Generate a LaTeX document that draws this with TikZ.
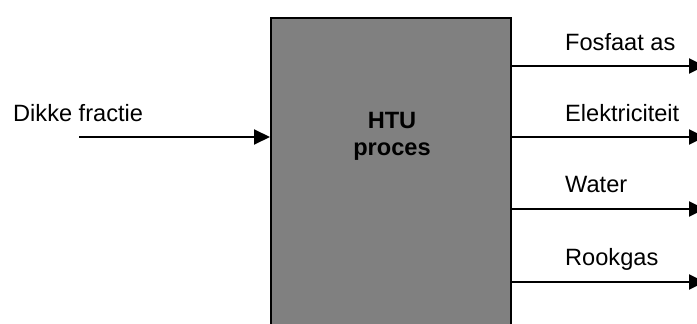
\documentclass[tikz,border=0pt]{standalone}
\usepackage{fontspec}
\setmainfont{Liberation Sans}
\usetikzlibrary{arrows.meta}

\tikzset{
  flow/.style={line width=2pt, -{Triangle[length=16pt,width=15pt]}},
  procbox/.style={draw=black, fill={rgb,255:red,128;green,128;blue,128}, line width=2pt,
    rectangle, inner sep=0pt, minimum width=240pt, minimum height=323pt},
  lbl/.style={anchor=base west, inner sep=0pt, font=\fontsize{23.6}{27}\selectfont},
  boxtext/.style={anchor=base, inner sep=0pt, align=center,
    font=\fontsize{23.6}{27}\selectfont\bfseries}
}

\begin{document}
\begin{tikzpicture}[x=1pt, y=-1pt]
  \useasboundingbox (0,0) rectangle (697,324);

  % the process block (runs off the bottom edge)
  \node[procbox] (box) at (391,179) {};
  % base anchor of a two-line node sits on its last line
  \node[boxtext] (boxlabel) at (392,155) {HTU\\proces};

  % feed stream
  \node[lbl] (feedlbl) at (13,121) {Dikke fractie};
  \coordinate (feed) at (79,137);
  \draw[flow] (feed) -- (feed -| box.west);

  % product streams
  \node[lbl] (out1lbl) at (565,50) {Fosfaat as};
  \node[lbl] (out2lbl) at (565,121) {Elektriciteit};
  \node[lbl] (out3lbl) at (565,192) {Water};
  \node[lbl] (out4lbl) at (565,265) {Rookgas};

  \coordinate (out1) at (705,66);
  \coordinate (out2) at (705,137);
  \coordinate (out3) at (705,209);
  \coordinate (out4) at (705,282);

  \draw[flow] (out1 -| box.east) -- (out1);
  \draw[flow] (out2 -| box.east) -- (out2);
  \draw[flow] (out3 -| box.east) -- (out3);
  \draw[flow] (out4 -| box.east) -- (out4);
\end{tikzpicture}
\end{document}
